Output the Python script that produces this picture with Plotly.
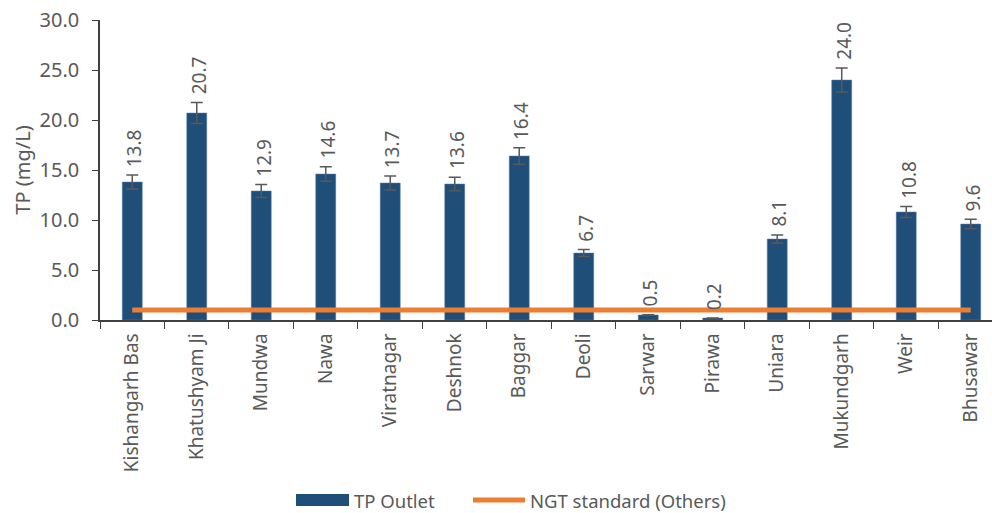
import plotly.graph_objects as go

sites = ["Kishangarh Bas", "Khatushyam Ji", "Mundwa", "Nawa", "Viratnagar", "Deshnok",
         "Baggar", "Deoli", "Sarwar", "Pirawa", "Uniara", "Mukundgarh", "Weir", "Bhusawar"]
tp_outlet = [13.8, 20.7, 12.9, 14.6, 13.7, 13.6, 16.4, 6.7, 0.5, 0.2, 8.1, 24.0, 10.8, 9.6]
tp_error = [0.69, 1.04, 0.65, 0.73, 0.69, 0.68, 0.82, 0.34, 0.03, 0.01, 0.41, 1.2, 0.54, 0.48]
ngt_standard = [1.0] * len(sites)
y_ticks = [0, 5, 10, 15, 20, 25, 30]

font_family = "Noto Sans"
grey = "#595959"
bar_color = "#1F4E79"
line_color = "#ED7D31"

W, H = 992, 513
L, R, T, B = 100, 0, 20, 193
pw, ph = W - L - R, H - T - B


def px_x(p):
    return (p - L) / pw


def px_y(p):
    return (H - B - p) / ph


fig = go.Figure()
fig.add_trace(go.Bar(
    x=sites, y=tp_outlet, name="TP Outlet",
    marker=dict(color=bar_color, line=dict(color="#5B7FA6", width=0.5)),
    width=0.31,
    error_y=dict(type="data", array=tp_error, visible=True, color="#595959",
                 thickness=1.5, width=6),
    showlegend=False,
))
fig.add_trace(go.Scatter(
    x=sites, y=ngt_standard, name="NGT standard (Others)", mode="lines",
    line=dict(color=line_color, width=5),
    showlegend=False,
))

for s, v, e in zip(sites, tp_outlet, tp_error):
    fig.add_annotation(x=s, y=v + e, text=f"{v:.1f}", textangle=-90,
                       showarrow=False, yanchor="bottom", xanchor="center",
                       yshift=6, xshift=2, font=dict(family=font_family, size=19, color=grey))

# manual legend (wide swatches as in the reference)
leg_y = 500
fig.add_shape(type="rect", xref="paper", yref="paper",
              x0=px_x(296), x1=px_x(349), y0=px_y(leg_y + 6), y1=px_y(leg_y - 6),
              fillcolor=bar_color, line=dict(width=0))
fig.add_annotation(xref="paper", yref="paper", x=px_x(352), y=px_y(leg_y), text="TP Outlet",
                   showarrow=False, xanchor="left", yanchor="middle",
                   font=dict(family=font_family, size=18.5, color=grey))
fig.add_shape(type="line", xref="paper", yref="paper",
              x0=px_x(473), x1=px_x(525), y0=px_y(leg_y), y1=px_y(leg_y),
              line=dict(color=line_color, width=5))
fig.add_annotation(xref="paper", yref="paper", x=px_x(528), y=px_y(leg_y),
                   text="NGT standard (Others)",
                   showarrow=False, xanchor="left", yanchor="middle",
                   font=dict(family=font_family, size=18.5, color=grey))

fig.update_layout(
    width=W, height=H,
    margin=dict(l=L, r=R, t=T, b=B),
    plot_bgcolor="white", paper_bgcolor="white",
    font=dict(family=font_family, size=19, color=grey),
    showlegend=False,
)
fig.update_xaxes(
    range=[-0.5, 13.33], automargin=False,
    tickangle=-90, showline=True, linecolor="#404040", linewidth=1.5,
    ticks="outside", tickson="boundaries", ticklen=7, tickcolor="#404040",
    tickfont=dict(size=19, color=grey), showgrid=False, ticklabelstandoff=4,
)
fig.update_yaxes(
    range=[0, 30], automargin=False, tickvals=y_ticks, ticktext=[f"{t:.1f}" for t in y_ticks],
    showline=True, linecolor="#404040", linewidth=1.5, ticks="outside", ticklen=6,
    tickcolor="#404040", showgrid=False, zeroline=False, ticklabelstandoff=9,
    title=dict(text="TP (mg/L)", font=dict(size=20, color=grey), standoff=4),
    tickfont=dict(size=20, color=grey),
)

fig.write_html(
    "out.html",
    config={"displayModeBar": False},
    post_script="document.body.style.margin='0';document.body.style.overflow='hidden';",
)
